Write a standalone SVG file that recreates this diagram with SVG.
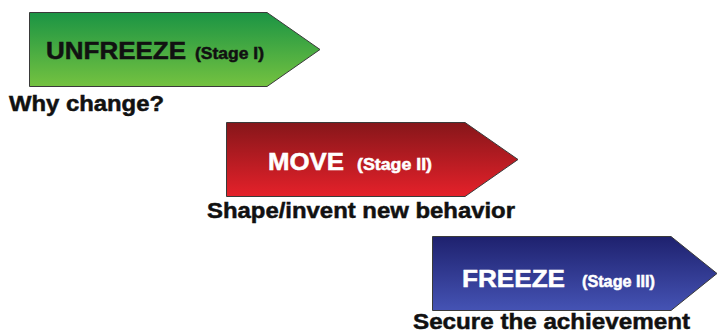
<svg xmlns="http://www.w3.org/2000/svg" width="717" height="334" viewBox="0 0 717 334">
  <defs>
    <linearGradient id="gGreen" x1="0" y1="0" x2="0" y2="1">
      <stop offset="0" stop-color="#1b9444"/>
      <stop offset="1" stop-color="#74c240"/>
    </linearGradient>
    <linearGradient id="gRed" x1="0" y1="0" x2="0" y2="1">
      <stop offset="0" stop-color="#86161a"/>
      <stop offset="1" stop-color="#e5212a"/>
    </linearGradient>
    <linearGradient id="gBlue" x1="0" y1="0" x2="0" y2="1">
      <stop offset="0" stop-color="#1e216e"/>
      <stop offset="1" stop-color="#4553b4"/>
    </linearGradient>
  </defs>
  <style>
    .arrow { stroke: #3a3a3a; stroke-width: 1; }
    text { font-family: "Liberation Sans", Arial, sans-serif; font-weight: bold; stroke-width: 0.5; }
    .title { font-size: 24px; }
    .stage { font-size: 16px; }
    .caption { font-size: 22px; fill: #111; stroke: #111; }
    .dark { fill: #111; stroke: #111; }
    .light { fill: #ffffff; stroke: #ffffff; }
  </style>
  <rect width="717" height="334" fill="#ffffff"/>

  <g id="unfreeze">
    <polygon class="arrow" fill="url(#gGreen)" points="29.5,12.5 267,12.5 320,49.5 267,86.5 29.5,86.5"/>
    <text class="title dark" x="46" y="59" textLength="140" lengthAdjust="spacingAndGlyphs">UNFREEZE</text>
    <text class="stage dark" x="195" y="59" textLength="69" lengthAdjust="spacingAndGlyphs">(Stage I)</text>
    <text class="caption" x="9" y="111" textLength="155" lengthAdjust="spacingAndGlyphs">Why change?</text>
  </g>

  <g id="move">
    <polygon class="arrow" fill="url(#gRed)" points="226.5,122.5 465,122.5 518,159.5 465,196.5 226.5,196.5"/>
    <text class="title light" x="268" y="170" textLength="76" lengthAdjust="spacingAndGlyphs">MOVE</text>
    <text class="stage light" x="357" y="170" textLength="75" lengthAdjust="spacingAndGlyphs">(Stage II)</text>
    <text class="caption" x="207" y="218" textLength="308" lengthAdjust="spacingAndGlyphs">Shape/invent new behavior</text>
  </g>

  <g id="freeze">
    <polygon class="arrow" fill="url(#gBlue)" points="432.5,236.5 671,236.5 717,273.5 671,310.5 432.5,310.5"/>
    <text class="title light" x="462" y="287" textLength="103" lengthAdjust="spacingAndGlyphs">FREEZE</text>
    <text class="stage light" x="582" y="287" textLength="73" lengthAdjust="spacingAndGlyphs">(Stage III)</text>
    <text class="caption" x="413" y="329" font-size="21" textLength="277" lengthAdjust="spacingAndGlyphs">Secure the achievement</text>
  </g>

  <g id="connectors"></g>
</svg>
